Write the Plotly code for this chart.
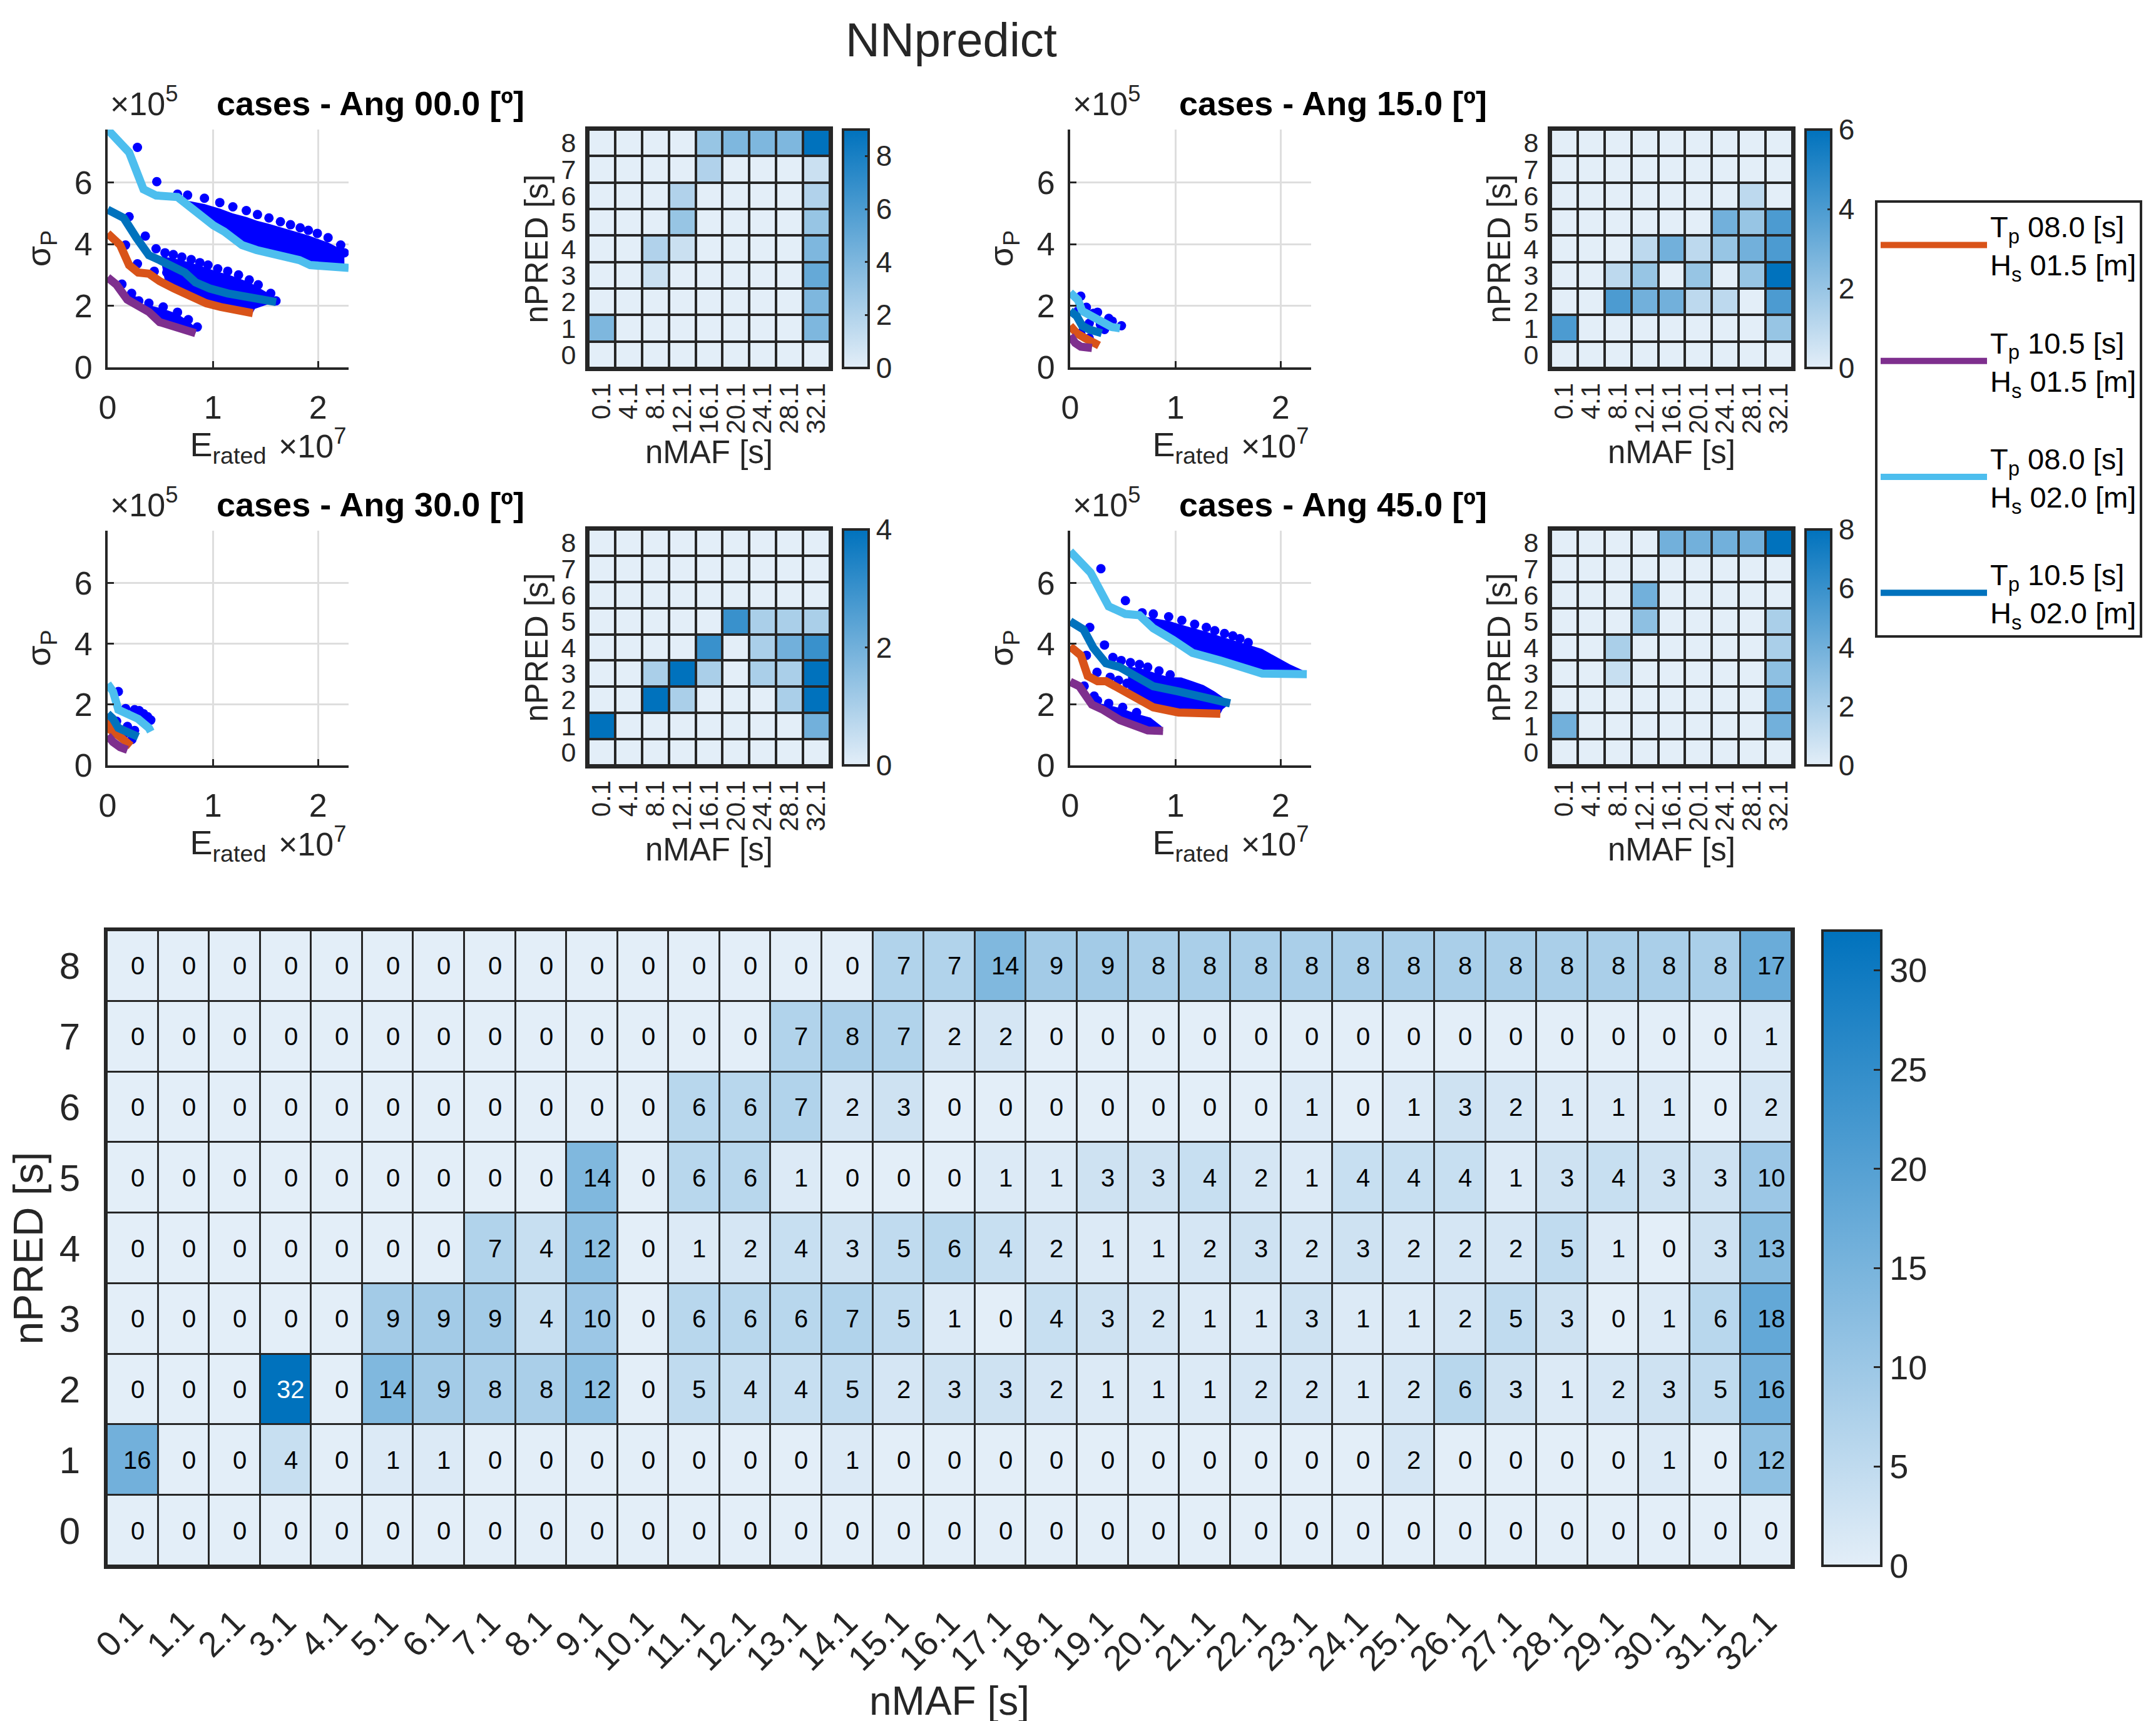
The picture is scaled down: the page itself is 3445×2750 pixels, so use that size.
import plotly.graph_objects as go

# ------------------------------------------------------------------ data
NMAF_ALL = ["0.1", "1.1", "2.1", "3.1", "4.1", "5.1", "6.1", "7.1", "8.1", "9.1", "10.1",
            "11.1", "12.1", "13.1", "14.1", "15.1", "16.1", "17.1", "18.1", "19.1", "20.1",
            "21.1", "22.1", "23.1", "24.1", "25.1", "26.1", "27.1", "28.1", "29.1", "30.1",
            "31.1", "32.1"]
NMAF_SMALL = ["0.1", "4.1", "8.1", "12.1", "16.1", "20.1", "24.1", "28.1", "32.1"]
NPRED = [0, 1, 2, 3, 4, 5, 6, 7, 8]

# big heatmap, rows nPRED = 0..8
BIG_Z = [
    [0]*33,
    [16, 0, 0, 4, 0, 1, 1, 0, 0, 0, 0, 0, 0, 0, 1, 0, 0, 0, 0, 0, 0, 0, 0, 0, 0, 2, 0, 0, 0, 0, 1, 0, 12],
    [0, 0, 0, 32, 0, 14, 9, 8, 8, 12, 0, 5, 4, 4, 5, 2, 3, 3, 2, 1, 1, 1, 2, 2, 1, 2, 6, 3, 1, 2, 3, 5, 16],
    [0, 0, 0, 0, 0, 9, 9, 9, 4, 10, 0, 6, 6, 6, 7, 5, 1, 0, 4, 3, 2, 1, 1, 3, 1, 1, 2, 5, 3, 0, 1, 6, 18],
    [0, 0, 0, 0, 0, 0, 0, 7, 4, 12, 0, 1, 2, 4, 3, 5, 6, 4, 2, 1, 1, 2, 3, 2, 3, 2, 2, 2, 5, 1, 0, 3, 13],
    [0, 0, 0, 0, 0, 0, 0, 0, 0, 14, 0, 6, 6, 1, 0, 0, 0, 1, 1, 3, 3, 4, 2, 1, 4, 4, 4, 1, 3, 4, 3, 3, 10],
    [0, 0, 0, 0, 0, 0, 0, 0, 0, 0, 0, 6, 6, 7, 2, 3, 0, 0, 0, 0, 0, 0, 0, 1, 0, 1, 3, 2, 1, 1, 1, 0, 2],
    [0, 0, 0, 0, 0, 0, 0, 0, 0, 0, 0, 0, 0, 7, 8, 7, 2, 2, 0, 0, 0, 0, 0, 0, 0, 0, 0, 0, 0, 0, 0, 0, 1],
    [0, 0, 0, 0, 0, 0, 0, 0, 0, 0, 0, 0, 0, 0, 0, 7, 7, 14, 9, 9, 8, 8, 8, 8, 8, 8, 8, 8, 8, 8, 8, 8, 17],
]

Z_ANG00 = [
    [0, 0, 0, 0, 0, 0, 0, 0, 0],
    [4, 0, 0, 0, 0, 0, 0, 0, 4],
    [0, 0, 0, 0, 0, 0, 0, 0, 4],
    [0, 0, 1, 0, 0, 0, 0, 0, 5],
    [0, 0, 2, 1, 0, 0, 0, 0, 4],
    [0, 0, 0, 3, 0, 0, 0, 0, 3],
    [0, 0, 0, 2, 0, 0, 0, 0, 2],
    [0, 0, 0, 0, 2, 0, 0, 0, 1],
    [0, 0, 0, 0, 3, 4, 4, 4, 9],
]
Z_ANG15 = [
    [0, 0, 0, 0, 0, 0, 0, 0, 0],
    [4, 0, 0, 0, 0, 0, 0, 0, 2],
    [0, 0, 4, 3, 3, 1, 1, 0, 4],
    [0, 0, 1, 2, 0, 2, 0, 2, 6],
    [0, 0, 0, 1, 3, 1, 2, 3, 4],
    [0, 0, 0, 0, 0, 0, 3, 2, 4],
    [0, 0, 0, 0, 0, 0, 0, 1, 0],
    [0, 0, 0, 0, 0, 0, 0, 0, 0],
    [0, 0, 0, 0, 0, 0, 0, 0, 0],
]
Z_ANG30 = [
    [0, 0, 0, 0, 0, 0, 0, 0, 0],
    [4, 0, 0, 0, 0, 0, 0, 0, 2],
    [0, 0, 4, 1, 0, 0, 0, 1, 4],
    [0, 0, 1, 4, 1, 0, 1, 1, 4],
    [0, 0, 0, 0, 3, 0, 1, 2, 3],
    [0, 0, 0, 0, 0, 3, 1, 1, 1],
    [0, 0, 0, 0, 0, 0, 0, 0, 0],
    [0, 0, 0, 0, 0, 0, 0, 0, 0],
    [0, 0, 0, 0, 0, 0, 0, 0, 0],
]
Z_ANG45 = [
    [0, 0, 0, 0, 0, 0, 0, 0, 0],
    [4, 0, 0, 0, 0, 0, 0, 0, 4],
    [0, 0, 0, 0, 0, 0, 0, 0, 4],
    [0, 0, 1, 0, 0, 0, 0, 0, 3],
    [0, 0, 2, 0, 0, 0, 0, 0, 2],
    [0, 0, 0, 3, 0, 0, 0, 0, 2],
    [0, 0, 0, 4, 0, 0, 0, 0, 0],
    [0, 0, 0, 0, 0, 0, 0, 0, 0],
    [0, 0, 0, 0, 4, 4, 4, 4, 8],
]

# scatter panels: E_rated in units of 1e7, sigma_P in units of 1e5
# --- Ang 00
A00_OR_X = [0, 0.119, 0.204, 0.290, 0.392, 0.494, 0.630, 0.801, 0.937, 1.073, 1.244, 1.380]
A00_OR_Y = [4.35, 3.97, 3.32, 3.08, 3.04, 2.80, 2.56, 2.28, 2.08, 1.96, 1.84, 1.76]
A00_PU_X = [0, 0.085, 0.187, 0.290, 0.392, 0.494, 0.630, 0.733, 0.835]
A00_PU_Y = [2.92, 2.68, 2.20, 2.00, 1.80, 1.47, 1.31, 1.19, 1.11]
A00_LB_X = [0, 0.204, 0.341, 0.46, 0.664, 0.733, 0.835, 1.005, 1.107, 1.278, 1.414, 1.823, 1.925, 2.29]
A00_LB_Y = [7.72, 6.98, 5.78, 5.58, 5.53, 5.33, 5.09, 4.61, 4.41, 3.97, 3.81, 3.48, 3.32, 3.23]
A00_DB_X = [0, 0.153, 0.273, 0.392, 0.494, 0.596, 0.733, 0.835, 0.971, 1.141, 1.346, 1.482, 1.601]
A00_DB_Y = [5.12, 4.85, 4.21, 3.64, 3.48, 3.32, 3.08, 2.76, 2.56, 2.40, 2.28, 2.20, 2.12]
A00_DOT_X = [0.283, 0.467, 0.204, 0.358, 0.170, 0.283, 0.136, 0.228, 0.296,
             0.664, 0.76, 0.92, 1.066, 1.19, 1.318, 1.424, 1.533, 1.642, 1.738, 1.83, 1.908, 1.993, 2.095, 2.215, 2.249,
             0.46, 0.545, 0.624, 0.705, 0.794, 0.876, 0.954, 1.046, 1.141, 1.244, 1.346, 1.431, 1.55, 1.60,
             0.443, 0.562, 0.664, 0.75,
             0.255, 0.392, 0.528, 0.664, 0.767, 0.852]
A00_DOT_Y = [7.14, 6.03, 4.89, 4.26, 3.97, 3.36, 2.70, 2.40, 2.16,
             5.62, 5.59, 5.49, 5.35, 5.21, 5.09, 4.96, 4.85, 4.73, 4.63, 4.53, 4.45, 4.35, 4.21, 3.97, 3.72,
             3.85, 3.72, 3.66, 3.58, 3.50, 3.40, 3.32, 3.20, 3.12, 3.00, 2.84, 2.68, 2.40, 2.16,
             3.12, 3.08, 2.96, 2.84,
             2.16, 2.08, 1.96, 1.79, 1.55, 1.31]
A00_CLOUD1_X = [0.70, 0.92, 1.07, 1.19, 1.32, 1.42, 1.53, 1.64, 1.74, 1.83, 1.91, 1.99, 2.10, 2.21, 2.25,
                2.25, 1.92, 1.82, 1.41, 1.28, 1.11, 1.00, 0.84, 0.73]
A00_CLOUD1_Y = [5.45, 5.30, 5.15, 5.00, 4.88, 4.76, 4.66, 4.55, 4.45, 4.36, 4.28, 4.18, 4.05, 3.85, 3.60,
                3.25, 3.33, 3.48, 3.81, 3.97, 4.41, 4.61, 5.09, 5.33]
A00_CLOUD2_X = [0.50, 0.62, 0.70, 0.79, 0.88, 0.95, 1.05, 1.14, 1.24, 1.35, 1.43, 1.55, 1.60, 1.50, 1.40, 1.38,
                1.244, 1.073, 0.937, 0.801, 0.630, 0.55]
A00_CLOUD2_Y = [3.60, 3.55, 3.48, 3.40, 3.30, 3.22, 3.10, 3.02, 2.90, 2.76, 2.60, 2.36, 2.14, 2.02, 1.90, 1.78,
                1.84, 1.96, 2.08, 2.28, 2.56, 2.70]
A00_CLOUD3_X = [0.26, 0.39, 0.53, 0.66, 0.77, 0.85, 0.835, 0.733, 0.630, 0.494, 0.392, 0.29]
A00_CLOUD3_Y = [2.10, 2.02, 1.90, 1.74, 1.50, 1.25, 1.11, 1.19, 1.31, 1.47, 1.80, 2.00]

# --- Ang 15
A15_OR_X = [0, 0.061, 0.141, 0.207, 0.274]
A15_OR_Y = [1.35, 1.11, 0.95, 0.83, 0.71]
A15_PU_X = [0, 0.048, 0.101, 0.207]
A15_PU_Y = [1.03, 0.79, 0.67, 0.63]
A15_LB_X = [0, 0.074, 0.114, 0.181, 0.287, 0.394, 0.473]
A15_LB_Y = [2.43, 2.19, 1.83, 1.71, 1.55, 1.31, 1.27]
A15_DB_X = [0, 0.061, 0.114, 0.181, 0.30]
A15_DB_Y = [1.83, 1.67, 1.35, 1.23, 1.11]
A15_DOT_X = [0.101, 0.154, 0.26, 0.367, 0.487, 0.074, 0.181, 0.287, 0.327, 0.101, 0.181, 0.22, 0.40]
A15_DOT_Y = [2.31, 1.95, 1.79, 1.59, 1.35, 1.83, 1.43, 1.39, 1.23, 1.11, 0.95, 1.75, 1.50]
A15_CLOUD1_X = []
A15_CLOUD1_Y = []
A15_CLOUD2_X = []
A15_CLOUD2_Y = []
A15_CLOUD3_X = []
A15_CLOUD3_Y = []

# --- Ang 30
A30_OR_X = [0, 0.034, 0.119, 0.222]
A30_OR_Y = [1.51, 1.15, 0.94, 0.64]
A30_PU_X = [0, 0.051, 0.119, 0.188]
A30_PU_Y = [0.98, 0.77, 0.60, 0.51]
A30_LB_X = [0, 0.051, 0.102, 0.154, 0.29, 0.392, 0.41]
A30_LB_Y = [2.68, 2.43, 1.83, 1.74, 1.53, 1.23, 1.11]
A30_DB_X = [0, 0.051, 0.102, 0.205, 0.29]
A30_DB_Y = [1.70, 1.53, 1.23, 1.06, 0.94]
A30_DOT_X = [0.102, 0.171, 0.256, 0.341, 0.41, 0.30, 0.38, 0.085, 0.188, 0.256, 0.15, 0.23]
A30_DOT_Y = [2.43, 1.87, 1.83, 1.70, 1.49, 1.80, 1.60, 1.45, 1.28, 1.15, 1.00, 0.85]
A30_CLOUD1_X = []
A30_CLOUD1_Y = []
A30_CLOUD2_X = []
A30_CLOUD2_Y = []
A30_CLOUD3_X = []
A30_CLOUD3_Y = []

# --- Ang 45
A45_OR_X = [0, 0.101, 0.167, 0.26, 0.34, 0.446, 0.631, 0.790, 1.029, 1.427]
A45_OR_Y = [3.91, 3.62, 2.94, 2.77, 2.77, 2.55, 2.17, 1.91, 1.74, 1.70]
A45_PU_X = [0, 0.088, 0.207, 0.313, 0.472, 0.631, 0.737, 0.883]
A45_PU_Y = [2.75, 2.60, 2.00, 1.83, 1.49, 1.32, 1.15, 1.13]
A45_LB_X = [0, 0.194, 0.366, 0.525, 0.658, 0.790, 0.976, 1.162, 1.427, 1.825, 2.249]
A45_LB_Y = [7.04, 6.34, 5.23, 4.98, 4.94, 4.51, 4.13, 3.70, 3.45, 3.02, 3.00]
A45_DB_X = [0, 0.127, 0.22, 0.34, 0.472, 0.658, 0.790, 1.029, 1.294, 1.52]
A45_DB_Y = [4.74, 4.47, 3.87, 3.36, 3.23, 2.85, 2.60, 2.43, 2.21, 2.04]
A45_DOT_X = [0.292, 0.525, 0.186, 0.326, 0.154, 0.255, 0.133, 0.228,
             0.684, 0.79, 0.936, 1.061, 1.183, 1.294, 1.374, 1.467, 1.546, 1.613, 1.692,
             0.406, 0.485, 0.573, 0.658, 0.737, 0.844, 0.95, 0.38, 0.46, 0.54,
             0.26, 0.366, 0.499, 0.631]
A45_DOT_Y = [6.47, 5.42, 4.54, 3.96, 3.62, 3.06, 2.61, 2.28,
             5.02, 4.98, 4.89, 4.77, 4.64, 4.54, 4.43, 4.34, 4.26, 4.17, 4.04,
             3.55, 3.45, 3.38, 3.32, 3.23, 3.11, 2.98, 2.90, 2.80, 2.70,
             2.13, 2.04, 1.91, 1.74]
A45_CLOUD1_X = [0.70, 0.94, 1.06, 1.18, 1.29, 1.47, 1.61, 1.69, 1.825, 1.958, 2.09, 2.223, 2.249,
                1.825, 1.427, 1.162, 0.976, 0.790]
A45_CLOUD1_Y = [4.90, 4.75, 4.62, 4.50, 4.40, 4.20, 4.05, 3.98, 3.83, 3.57, 3.32, 3.11, 3.00,
                3.02, 3.45, 3.70, 4.13, 4.51]
A45_CLOUD2_X = [0.55, 0.66, 0.74, 0.84, 0.95, 1.056, 1.162, 1.268, 1.374, 1.48, 1.52, 1.45, 1.427,
                1.029, 0.790, 0.631, 0.55]
A45_CLOUD2_Y = [3.25, 3.20, 3.12, 3.00, 2.90, 2.89, 2.77, 2.64, 2.43, 2.17, 2.04, 1.85, 1.70,
                1.74, 1.91, 2.17, 2.40]
A45_CLOUD3_X = [0.26, 0.37, 0.50, 0.63, 0.764, 0.87, 0.883, 0.737, 0.631, 0.472, 0.313, 0.26]
A45_CLOUD3_Y = [2.05, 1.98, 1.86, 1.70, 1.57, 1.28, 1.13, 1.15, 1.32, 1.49, 1.83, 1.90]

SERIES_NAMES = ["T<sub>p</sub> 08.0 [s]<br>H<sub>s</sub> 01.5 [m]",
                "T<sub>p</sub> 10.5 [s]<br>H<sub>s</sub> 01.5 [m]",
                "T<sub>p</sub> 08.0 [s]<br>H<sub>s</sub> 02.0 [m]",
                "T<sub>p</sub> 10.5 [s]<br>H<sub>s</sub> 02.0 [m]"]
SERIES_COLORS = ["#D95319", "#7E2F8E", "#4DBEEE", "#0072BD"]
ANGLE_TITLES = ["cases - Ang 00.0 [º]", "cases - Ang 15.0 [º]",
                "cases - Ang 30.0 [º]", "cases - Ang 45.0 [º]"]

# ------------------------------------------------------------------ layout helpers
W, H = 3445, 2750
FONT = "Liberation Sans, Arial, Helvetica, sans-serif"
TXT = "#262626"
DOT = "#0000FF"
CSCALE = [[0, "rgb(227,238,248)"], [1, "rgb(0,114,189)"]]


def xd(a, b):
    return [a / W, b / W]


def yd(top, bottom):
    return [1 - bottom / H, 1 - top / H]


fig = go.Figure()

panels = [
    dict(sx=(164, 549), sy=(199, 579), hx=(932, 1318), hy=(199, 580), cbx=1339,
         lines=[(A00_OR_X, A00_OR_Y), (A00_PU_X, A00_PU_Y), (A00_LB_X, A00_LB_Y), (A00_DB_X, A00_DB_Y)],
         dots=(A00_DOT_X, A00_DOT_Y),
         clouds=[(A00_CLOUD1_X, A00_CLOUD1_Y), (A00_CLOUD2_X, A00_CLOUD2_Y), (A00_CLOUD3_X, A00_CLOUD3_Y)],
         z=Z_ANG00, cmax=9, dtick=2),
    dict(sx=(1702, 2087), sy=(199, 579), hx=(2470, 2856), hy=(199, 580), cbx=2877,
         lines=[(A15_OR_X, A15_OR_Y), (A15_PU_X, A15_PU_Y), (A15_LB_X, A15_LB_Y), (A15_DB_X, A15_DB_Y)],
         dots=(A15_DOT_X, A15_DOT_Y),
         clouds=[(A15_CLOUD1_X, A15_CLOUD1_Y), (A15_CLOUD2_X, A15_CLOUD2_Y), (A15_CLOUD3_X, A15_CLOUD3_Y)],
         z=Z_ANG15, cmax=6, dtick=2),
    dict(sx=(164, 549), sy=(840, 1215), hx=(932, 1318), hy=(838, 1215), cbx=1339,
         lines=[(A30_OR_X, A30_OR_Y), (A30_PU_X, A30_PU_Y), (A30_LB_X, A30_LB_Y), (A30_DB_X, A30_DB_Y)],
         dots=(A30_DOT_X, A30_DOT_Y),
         clouds=[(A30_CLOUD1_X, A30_CLOUD1_Y), (A30_CLOUD2_X, A30_CLOUD2_Y), (A30_CLOUD3_X, A30_CLOUD3_Y)],
         z=Z_ANG30, cmax=4, dtick=2),
    dict(sx=(1702, 2087), sy=(840, 1215), hx=(2470, 2856), hy=(838, 1215), cbx=2877,
         lines=[(A45_OR_X, A45_OR_Y), (A45_PU_X, A45_PU_Y), (A45_LB_X, A45_LB_Y), (A45_DB_X, A45_DB_Y)],
         dots=(A45_DOT_X, A45_DOT_Y),
         clouds=[(A45_CLOUD1_X, A45_CLOUD1_Y), (A45_CLOUD2_X, A45_CLOUD2_Y), (A45_CLOUD3_X, A45_CLOUD3_Y)],
         z=Z_ANG45, cmax=8, dtick=2),
]

layout = dict(
    width=W, height=H,
    margin=dict(l=0, r=0, t=0, b=0, autoexpand=False),
    paper_bgcolor="white", plot_bgcolor="white",
    font=dict(family=FONT, color=TXT, size=44),
    showlegend=True,
    legend=dict(x=2988 / W, y=1 - 312 / H, xanchor="left", yanchor="top",
                bordercolor=TXT, borderwidth=4, bgcolor="white",
                font=dict(family=FONT, size=47, color="black"),
                itemwidth=170, valign="middle", tracegroupgap=60, traceorder="grouped"),
)
annotations = []
shapes = []

for i, p in enumerate(panels):
    sxn = 2 * i + 1
    hxn = 2 * i + 2
    sxa = "x" if sxn == 1 else f"x{sxn}"
    sya = "y" if sxn == 1 else f"y{sxn}"
    hxa = f"x{hxn}"
    hya = f"y{hxn}"
    # clouds of dense points
    for cx, cy in p["clouds"]:
        if cx:
            fig.add_trace(go.Scatter(x=cx, y=cy, mode="lines", fill="toself", fillcolor=DOT,
                                     line=dict(width=0, color=DOT), showlegend=False,
                                     hoverinfo="skip", xaxis=sxa, yaxis=sya))
    fig.add_trace(go.Scatter(x=p["dots"][0], y=p["dots"][1], mode="markers",
                             marker=dict(color=DOT, size=15), showlegend=False,
                             xaxis=sxa, yaxis=sya))
    for k, (lx, ly) in enumerate(p["lines"]):
        fig.add_trace(go.Scatter(x=lx, y=ly, mode="lines",
                                 line=dict(color=SERIES_COLORS[k], width=13),
                                 name=SERIES_NAMES[k], showlegend=(i == 0),
                                 legendgroup=f"g{k}", xaxis=sxa, yaxis=sya))
    # scatter axes
    layout["xaxis" if sxn == 1 else f"xaxis{sxn}"] = dict(
        domain=xd(*p["sx"]), anchor=sya, range=[0, 2.29], tickvals=[0, 1, 2],
        ticktext=["0", "1", "2"], showgrid=True, gridcolor="#dedede", gridwidth=3,
        showline=True, linecolor=TXT, linewidth=4, ticks="inside", ticklen=10, tickwidth=3,
        tickcolor=TXT, zeroline=False, tickfont=dict(size=52), ticklabelstandoff=16,
        title=dict(text="E<sub>rated</sub>", font=dict(size=54), standoff=4))
    layout["yaxis" if sxn == 1 else f"yaxis{sxn}"] = dict(
        domain=yd(*p["sy"]), anchor=sxa, range=[0, 7.72], tickvals=[0, 2, 4, 6],
        ticktext=["0", "2", "4", "6"], showgrid=True, gridcolor="#dedede", gridwidth=3,
        showline=True, linecolor=TXT, linewidth=4, ticks="inside", ticklen=10, tickwidth=3,
        tickcolor=TXT, zeroline=False, tickfont=dict(size=52), ticklabelstandoff=10,
        title=dict(text="σ<sub>P</sub>", font=dict(size=54), standoff=22))
    # heatmap
    ca = f"coloraxis{i + 2}"
    fig.add_trace(go.Heatmap(z=p["z"], x=NMAF_SMALL, y=NPRED, coloraxis=ca, xgap=4, ygap=4,
                             xaxis=hxa, yaxis=hya, hoverinfo="skip"))
    layout[f"xaxis{hxn}"] = dict(
        domain=xd(*p["hx"]), anchor=hya, type="category", tickangle=-90, ticks="",
        tickmode="array", tickvals=NMAF_SMALL, ticktext=NMAF_SMALL,
        showline=True, mirror=True, linecolor=TXT, linewidth=5, showgrid=False, zeroline=False,
        tickfont=dict(size=42), ticklabelstandoff=2,
        title=dict(text="nMAF [s]", font=dict(size=51), standoff=0))
    layout[f"yaxis{hxn}"] = dict(
        domain=yd(*p["hy"]), anchor=hxa, tickmode="array", tickvals=NPRED, ticks="",
        range=[-0.5, 8.5],
        showline=True, mirror=True, linecolor=TXT, linewidth=5, showgrid=False, zeroline=False,
        tickfont=dict(size=43), ticklabelstandoff=6,
        title=dict(text="nPRED [s]", font=dict(size=51), standoff=6))
    top, bot = p["hy"]
    layout[ca] = dict(
        colorscale=CSCALE, cmin=0, cmax=p["cmax"],
        colorbar=dict(x=p["cbx"] / W, xanchor="left", y=1 - (top + bot) / 2 / H, yanchor="middle",
                      len=(bot - top) / H, lenmode="fraction", thickness=41, thicknessmode="pixels",
                      outlinewidth=4, outlinecolor=TXT, ticks="inside", ticklen=8, tickwidth=3,
                      tickcolor=TXT, tick0=0, dtick=p["dtick"], xpad=0, ypad=0,
                      tickfont=dict(size=46, color=TXT, family=FONT)))
    shapes.append(dict(type="rect", xref=f"{hxa} domain", yref=f"{hya} domain",
                       x0=0, x1=1, y0=0, y1=1, fillcolor=TXT, line=dict(width=0), layer="below"))
    # panel title and exponent labels
    sx0, sx1 = p["sx"]
    sy0, sy1 = p["sy"]
    annotations.append(dict(text="<b>" + ANGLE_TITLES[i] + "</b>", xref="paper", yref="paper",
                            x=(sx0 + 420) / W, y=1 - (sy0 - 42) / H, xanchor="center", yanchor="middle",
                            showarrow=False, font=dict(size=54, color="black", family=FONT)))
    annotations.append(dict(text="×10<sup>5</sup>", xref="paper", yref="paper",
                            x=(sx0 + 2) / W, y=1 - (sy0 - 10) / H, xanchor="left", yanchor="bottom",
                            showarrow=False, font=dict(size=52, color=TXT, family=FONT)))
    annotations.append(dict(text="×10<sup>7</sup>", xref="paper", yref="paper",
                            x=(sx1 - 2) / W, y=1 - (sy1 + 122) / H, xanchor="right", yanchor="middle",
                            showarrow=False, font=dict(size=52, color=TXT, family=FONT)))

# big heatmap
fig.add_trace(go.Heatmap(z=BIG_Z, x=NMAF_ALL, y=NPRED, coloraxis="coloraxis", xgap=3, ygap=3,
                         xaxis="x9", yaxis="y9", hoverinfo="skip"))
layout["xaxis9"] = dict(domain=xd(163, 2855), anchor="y9", type="category", tickangle=-45, ticks="",
                        tickmode="array", tickvals=NMAF_ALL, ticktext=NMAF_ALL,
                        showline=True, mirror=True, linecolor=TXT, linewidth=5, showgrid=False,
                        zeroline=False, tickfont=dict(size=56), ticklabelstandoff=30,
                        title=dict(text="nMAF [s]", font=dict(size=64), standoff=6))
layout["yaxis9"] = dict(domain=yd(1479, 2494), anchor="x9", tickmode="array", tickvals=NPRED, ticks="",
                        range=[-0.5, 8.5],
                        showline=True, mirror=True, linecolor=TXT, linewidth=5, showgrid=False,
                        zeroline=False, tickfont=dict(size=60), ticklabelstandoff=26,
                        title=dict(text="nPRED [s]", font=dict(size=66), standoff=36))
layout["coloraxis"] = dict(
    colorscale=CSCALE, cmin=0, cmax=32,
    colorbar=dict(x=2904 / W, xanchor="left", y=1 - (1479 + 2494) / 2 / H, yanchor="middle",
                  len=(2494 - 1479) / H, lenmode="fraction", thickness=94, thicknessmode="pixels",
                  outlinewidth=4, outlinecolor=TXT, ticks="inside", ticklen=14, tickwidth=3,
                  tickcolor=TXT, tick0=0, dtick=5, xpad=0, ypad=0,
                  tickfont=dict(size=54, color=TXT, family=FONT)))
shapes.append(dict(type="rect", xref="x9 domain", yref="y9 domain", x0=0, x1=1, y0=0, y1=1,
                   fillcolor=TXT, line=dict(width=0), layer="below"))
for r, row in enumerate(BIG_Z):
    for c, v in enumerate(row):
        annotations.append(dict(text=str(v), x=NMAF_ALL[c], y=NPRED[r], xref="x9", yref="y9",
                                showarrow=False,
                                font=dict(size=40, family=FONT, color="white" if v >= 25 else "black")))

annotations.append(dict(text="NNpredict", xref="paper", yref="paper", x=1512 / W, y=1 - 55 / H,
                        xanchor="center", yanchor="middle", showarrow=False,
                        font=dict(size=76, color=TXT, family=FONT)))

layout["annotations"] = annotations
layout["shapes"] = shapes
fig.update_layout(**layout)
fig.write_html("out.html")
